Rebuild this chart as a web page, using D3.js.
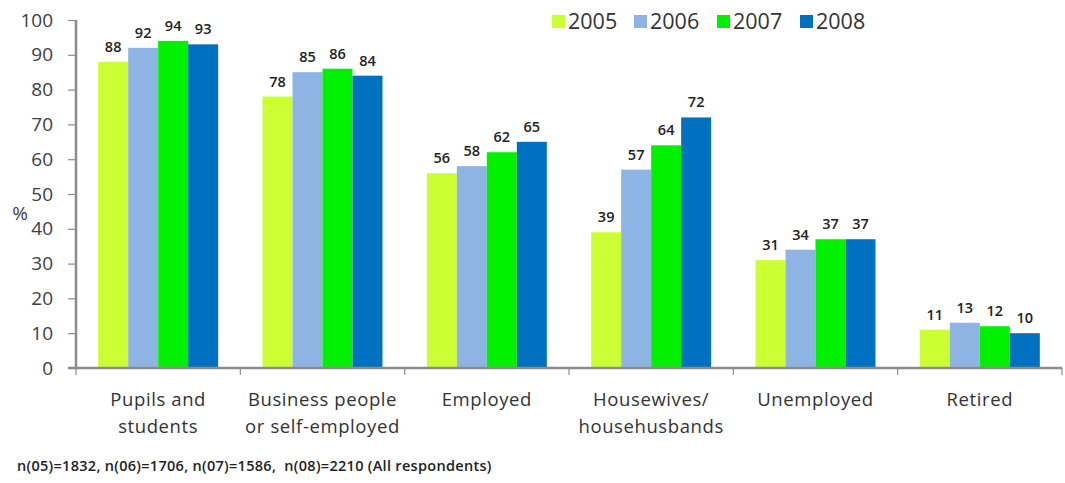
<!DOCTYPE html>
<html>
<head>
<meta charset="utf-8">
<script src="https://cdn.jsdelivr.net/npm/d3@7"></script>
<style>
  html, body { margin: 0; padding: 0; background: #fff; }
  svg { display: block; }
  text { font-family: "Open Sans", "Noto Sans", sans-serif; }
  .note { white-space: pre; }
</style>
</head>
<body>
<svg id="chart" width="1065" height="483"></svg>
<script>
// Share of respondents by occupation group, per survey year
const categories = [
  ["Pupils and", "students"],
  ["Business people", "or self-employed"],
  ["Employed"],
  ["Housewives/", "househusbands"],
  ["Unemployed"],
  ["Retired"]
];
const years = ["2005", "2006", "2007", "2008"];
const values2005 = [88, 78, 56, 39, 31, 11];
const values2006 = [92, 85, 58, 57, 34, 13];
const values2007 = [94, 86, 62, 64, 37, 12];
const values2008 = [93, 84, 65, 72, 37, 10];
const yTicks = [0, 10, 20, 30, 40, 50, 60, 70, 80, 90, 100];
const footnote = "n(05)=1832, n(06)=1706, n(07)=1586,  n(08)=2210 (All respondents)";

const seriesValues = [values2005, values2006, values2007, values2008];
const colors = ["#CCFF33", "#8EB4E3", "#00F000", "#0070C0"];

const svg = d3.select("#chart");
const plotLeft = 76, plotRight = 1062, plotTop = 20, plotBottom = 368;

const catKeys = categories.map(c => c.join(" "));
const x0 = d3.scaleBand().domain(catKeys).range([plotLeft, plotRight])
  .paddingInner(0.27).paddingOuter(0.135);
const x1 = d3.scaleBand().domain(years).range([0, x0.bandwidth()]).padding(0);
const y = d3.scaleLinear().domain([0, 100]).range([plotBottom, plotTop]);
const color = d3.scaleOrdinal().domain(years).range(colors);

// Bars
const groups = svg.append("g").selectAll("g")
  .data(catKeys)
  .join("g")
  .attr("transform", d => `translate(${x0(d)},0)`);

groups.selectAll("rect")
  .data((d, i) => years.map((yr, s) => ({ yr, v: seriesValues[s][i] })))
  .join("rect")
  .attr("x", d => x1(d.yr))
  .attr("width", x1.bandwidth())
  .attr("y", d => y(d.v))
  .attr("height", d => y(0) - y(d.v))
  .attr("fill", d => color(d.yr));

// Value labels
groups.selectAll("text.val")
  .data((d, i) => years.map((yr, s) => ({ yr, v: seriesValues[s][i] })))
  .join("text")
  .attr("class", "val")
  .attr("x", d => x1(d.yr) + x1.bandwidth() / 2)
  .attr("y", d => y(d.v) - 10)
  .attr("text-anchor", "middle")
  .attr("font-size", 14.5)
  .attr("font-weight", 600)
  .attr("fill", "#222")
  .text(d => d.v);

// Y axis
const yAxis = d3.axisLeft(y).tickValues(yTicks).tickSize(8).tickPadding(15);
const gy = svg.append("g").attr("transform", `translate(${plotLeft},0)`).call(yAxis);
gy.select(".domain").attr("stroke", "#8c8c8c").attr("stroke-width", 2.5)
  .attr("d", `M0,${plotTop}V${plotBottom}`);
gy.selectAll(".tick line").attr("stroke", "#8c8c8c").attr("stroke-width", 1.2);
gy.selectAll(".tick text").attr("font-size", 19).attr("fill", "#404040")
  .attr("font-family", "'Open Sans', sans-serif");

// X axis with boundary ticks between categories
const bounds = d3.range(categories.length + 1).map(i => plotLeft + i * x0.step());
svg.append("line")
  .attr("x1", plotLeft - 8).attr("x2", plotRight)
  .attr("y1", plotBottom).attr("y2", plotBottom)
  .attr("stroke", "#8c8c8c").attr("stroke-width", 2.5);
svg.append("g").selectAll("line")
  .data(bounds)
  .join("line")
  .attr("x1", d => d).attr("x2", d => d)
  .attr("y1", plotBottom).attr("y2", plotBottom + 7)
  .attr("stroke", "#8c8c8c").attr("stroke-width", 1.2);

// Category labels
const catLabels = svg.append("g").selectAll("text")
  .data(categories)
  .join("text")
  .attr("x", (d, i) => x0(catKeys[i]) + x0.bandwidth() / 2)
  .attr("y", 406)
  .attr("text-anchor", "middle")
  .attr("font-size", 18.5)
  .attr("letter-spacing", 0.6)
  .attr("fill", "#333");
catLabels.selectAll("tspan")
  .data(d => d)
  .join("tspan")
  .attr("x", function () { return d3.select(this.parentNode).attr("x"); })
  .attr("dy", (d, i) => i === 0 ? 0 : 27)
  .text(d => d);

// % label
svg.append("text")
  .attr("x", 20).attr("y", 220)
  .attr("text-anchor", "middle")
  .attr("font-size", 19)
  .attr("fill", "#404040")
  .text("%");

// Legend
const legendX = [552, 634, 717, 800];
const legend = svg.append("g").selectAll("g")
  .data(years)
  .join("g")
  .attr("transform", (d, i) => `translate(${legendX[i]},15)`);
legend.append("rect")
  .attr("width", 13).attr("height", 13)
  .attr("fill", d => color(d));
legend.append("text")
  .attr("x", 16).attr("y", 13.5)
  .attr("font-size", 21.5)
  .attr("fill", "#333")
  .text(d => d);

// Sample sizes
svg.append("text")
  .attr("class", "note")
  .attr("x", 17).attr("y", 471)
  .attr("font-size", 14.5)
  .attr("font-weight", 600)
  .attr("letter-spacing", 0.3)
  .attr("fill", "#222")
  .text(footnote);
</script>
</body>
</html>
